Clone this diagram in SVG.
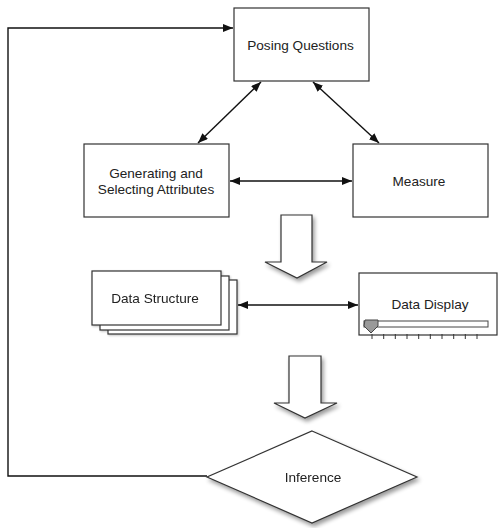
<svg xmlns="http://www.w3.org/2000/svg" width="498" height="528" viewBox="0 0 498 528">
<style>
.box{fill:#fff;stroke:#333;stroke-width:1.2}
.lbl{font-family:"Liberation Sans",Arial,sans-serif;font-size:13.6px;fill:#222;text-anchor:middle}
.con{fill:none;stroke:#111;stroke-width:1.4}
.blk{fill:#fff;stroke:#333;stroke-width:1.2}
</style>
<defs>
<marker id="ah" viewBox="0 0 10 8" refX="10" refY="4" markerWidth="10" markerHeight="8" markerUnits="userSpaceOnUse" orient="auto-start-reverse">
<path d="M0,0 L10,4 L0,8 z" fill="#111"/>
</marker>
<filter id="sh" x="-20%" y="-20%" width="150%" height="150%">
<feGaussianBlur in="SourceAlpha" stdDeviation="2"/>
<feOffset dx="2" dy="3" result="b"/>
<feComponentTransfer><feFuncA type="linear" slope="0.4"/></feComponentTransfer>
<feMerge><feMergeNode/><feMergeNode in="SourceGraphic"/></feMerge>
</filter>
<filter id="sh2" x="-20%" y="-20%" width="150%" height="150%">
<feGaussianBlur in="SourceAlpha" stdDeviation="1"/>
<feOffset dx="1" dy="1" result="b"/>
<feComponentTransfer><feFuncA type="linear" slope="0.25"/></feComponentTransfer>
<feMerge><feMergeNode/><feMergeNode in="SourceGraphic"/></feMerge>
</filter>
</defs>
<rect width="498" height="528" fill="#fff"/>
<g id="connectors">
<polyline class="con" points="207,476 8,476 8,28 233,28" marker-end="url(#ah)"/>
<line class="con" x1="261" y1="82" x2="198" y2="143" marker-start="url(#ah)" marker-end="url(#ah)"/>
<line class="con" x1="313" y1="82" x2="379" y2="143" marker-start="url(#ah)" marker-end="url(#ah)"/>
<line class="con" x1="230" y1="181" x2="352" y2="181" marker-start="url(#ah)" marker-end="url(#ah)"/>
<line class="con" x1="238" y1="305" x2="358" y2="305" marker-start="url(#ah)" marker-end="url(#ah)"/>
</g>
<g id="posing">
<rect class="box" x="234" y="8" width="135" height="73"/>
<text class="lbl" x="300.5" y="50">Posing Questions</text>
</g>
<g id="generating">
<rect class="box" x="84" y="144" width="145" height="73"/>
<text class="lbl" x="156" y="177.5">Generating and</text>
<text class="lbl" x="156" y="193.5">Selecting Attributes</text>
</g>
<g id="measure">
<rect class="box" x="353" y="144" width="135" height="73"/>
<text class="lbl" x="419" y="185.5">Measure</text>
</g>
<g id="arrow1" filter="url(#sh)">
<polygon class="blk" points="281,215 312,215 312,262 327,262 297,278 265,262 281,262"/>
</g>
<g id="datastructure" filter="url(#sh2)">
<rect class="box" x="108" y="280" width="129" height="54"/>
<rect class="box" x="100" y="276" width="129" height="54"/>
<rect class="box" x="92" y="271" width="129" height="54"/>
<text class="lbl" x="155" y="302.5">Data Structure</text>
</g>
<g id="datadisplay">
<rect class="box" x="359" y="273" width="138" height="62"/>
<text class="lbl" x="430" y="309">Data Display</text>
<rect x="364" y="321" width="124" height="6" fill="#fff" stroke="#444" stroke-width="1"/>
<path d="M365,320 L378,320 L378,326 L371,333 L364,326 Z" fill="#999" stroke="#444" stroke-width="1"/>
<path d="M372,334v5 M383.7,334v5 M395.3,334v5 M407,334v5 M418.7,334v5 M430.3,334v5 M442,334v5 M453.7,334v5 M465.3,334v5 M477,334v5" stroke="#333" stroke-width="1"/>
</g>
<g id="arrow2" filter="url(#sh)">
<polygon class="blk" points="289,356 321,356 321,403 337,403 305,418 274,403 289,403"/>
</g>
<g id="inference" filter="url(#sh)">
<polygon class="box" points="312,431 417,477 312,523 207,477"/>
<text class="lbl" x="313" y="482">Inference</text>
</g>
</svg>
